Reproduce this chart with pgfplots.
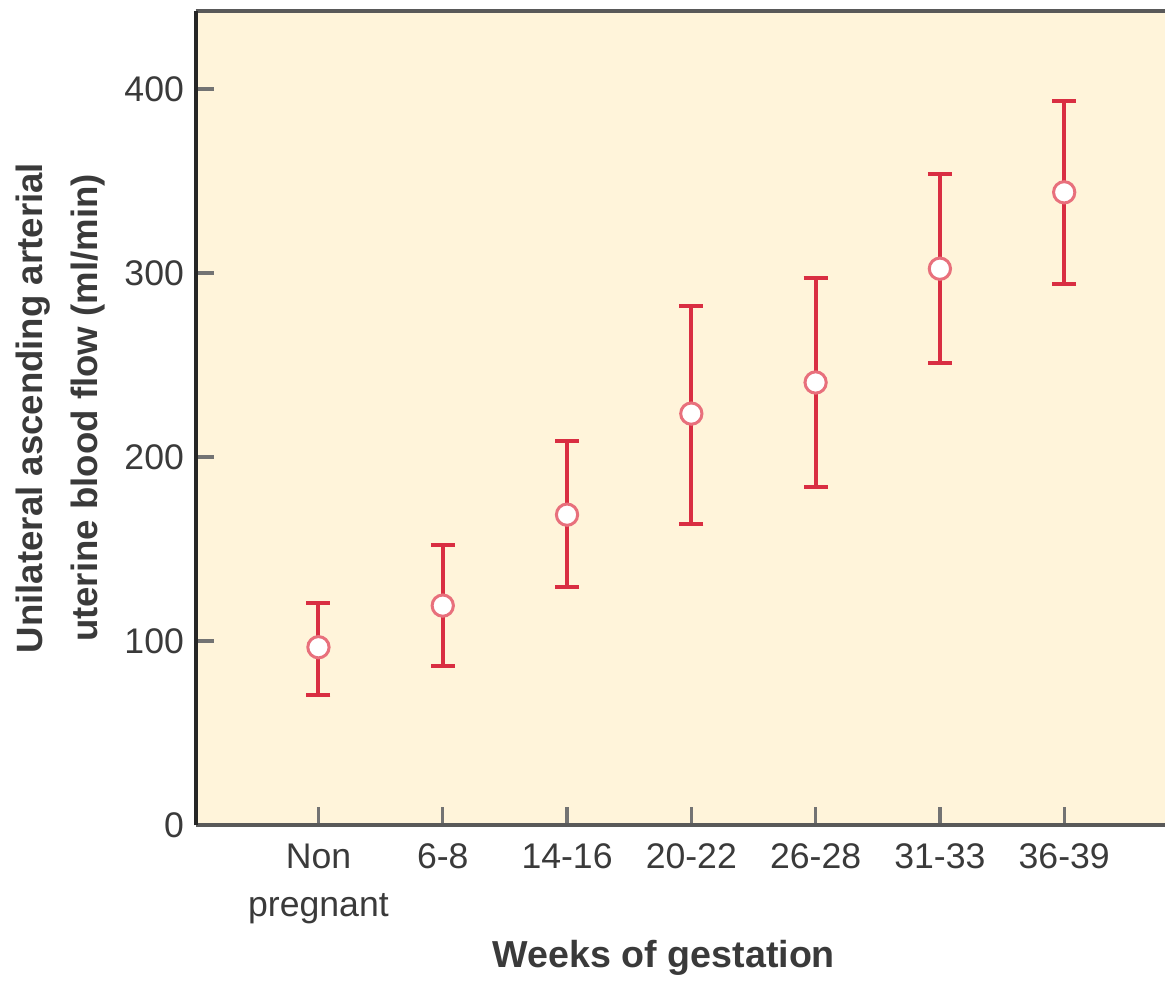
\documentclass[border=0pt]{standalone}
\usepackage{pgfplots}
\pgfplotsset{compat=1.18}
\usepackage{fontspec}
\setmainfont{Liberation Sans}
\definecolor{bg}{HTML}{FFF4DA}
\definecolor{barred}{HTML}{D92E42}
\definecolor{ringred}{HTML}{E8707C}
\definecolor{txt}{HTML}{3A3A3A}
\pgfplotstableread{
x y up down
0 96.7 23.9 25.8
1 119.3 33.1 32.9
2 168.7 40.1 39.4
3 223.6 58.4 60.0
4 240.5 57.0 57.0
5 302.3 51.7 51.4
6 343.8 49.7 50.0
}\flowdata
\begin{document}
\begin{tikzpicture}[x=1pt,y=1pt]
\begin{axis}[
  name=ax,
  scale only axis,
  width=291.3pt, height=244.7pt,
  xmin=-0.988, xmax=6.811,
  ymin=0, ymax=442.3,
  axis background/.style={fill=bg},
  axis x line=box,
  axis y line=left,
  axis line style={-},
  x axis line style={draw=black!65, line width=1.2pt},
  y axis line style={draw=black!85, line width=1.2pt},
  xtick={0,1,2,3,4,5,6},
  xticklabels={Non\\pregnant,6-8,14-16,20-22,26-28,31-33,36-39},
  xticklabel style={align=center, font=\fontsize{10.7}{14.5}\selectfont, text=txt, yshift=-2pt},
  ytick={0,100,200,300,400},
  yticklabel style={font=\fontsize{10.7}{12}\selectfont, text=txt},
  /pgf/number format/assume math mode=true,
  xtick pos=bottom, ytick pos=left,
  tick align=inside,
  major tick length=5.5pt,
  tick style={draw=black!55, line width=1pt},
  xlabel={Weeks of gestation},
  xlabel style={font=\bfseries\fontsize{11.3}{13}\selectfont, text=txt, at={(axis cs:2.78,0)}, anchor=north, yshift=-31pt},
  ylabel={Unilateral ascending arterial\\uterine blood flow (ml/min)},
  ylabel style={font=\bfseries\fontsize{11}{16.5}\selectfont, text=txt, align=center, yshift=-1pt, xshift=3pt},
  clip=false,
]
\addplot[draw=none, mark=none,
  error bars/.cd, y dir=both, y explicit,
  error bar style={line width=1.2pt, draw=barred},
  error mark options={rotate=90, mark size=3.6pt, line width=1.2pt, draw=barred}]
  table[x=x, y=y, y error plus=up, y error minus=down] {\flowdata};
\addplot[only marks, mark=*, mark size=3.2pt,
  mark options={fill=white, draw=ringred, line width=0.9pt}]
  table[x=x, y=y] {\flowdata};
\end{axis}
\path (ax.south west) ++(-58.8pt,-44.4pt) rectangle ([yshift=3.3pt]ax.north east);
\end{tikzpicture}
\end{document}
